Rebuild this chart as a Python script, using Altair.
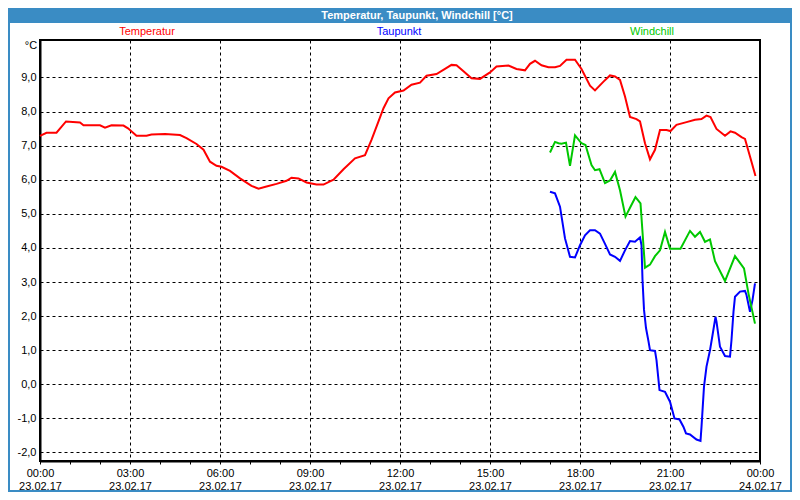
import json
import altair as alt
import pandas as pd

# ---------------- data ----------------
temp_times = ["00:00","00:13","00:33","00:52","01:20","01:27","02:00","02:10","02:23","02:47","02:56",
              "03:13","03:33","03:43","04:10","04:40","04:53","05:13","05:27","05:40","05:53","06:03",
              "06:20","06:40","07:03","07:17","07:33","07:53","08:13","08:23","08:37","08:53","09:13",
              "09:27","09:47","10:07","10:30","10:50","11:03","11:17","11:27","11:37","11:50","12:07",
              "12:23","12:40","12:53","13:13","13:30","13:43","13:53","14:07","14:23","14:40","15:00",
              "15:13","15:37","15:53","16:10","16:20","16:30","16:43","16:57","17:10","17:20","17:33",
              "17:50","18:03","18:20","18:30","18:47","19:00","19:10","19:20","19:30","19:40","19:53",
              "20:00","20:10","20:20","20:30","20:40","20:53","21:01","21:13","21:33","21:50","22:03",
              "22:13","22:21","22:33","22:50","23:01","23:10","23:23","23:30","23:40","23:51"]
temp_values = [7.29,7.38,7.38,7.71,7.68,7.60,7.60,7.53,7.60,7.59,7.51,
               7.29,7.29,7.33,7.34,7.31,7.22,7.05,6.88,6.53,6.41,6.38,
               6.26,6.04,5.82,5.74,5.80,5.88,5.97,6.06,6.04,5.92,5.86,
               5.86,6.00,6.31,6.63,6.72,7.17,7.71,8.10,8.39,8.56,8.62,
               8.79,8.85,9.05,9.10,9.25,9.37,9.36,9.18,8.98,8.96,9.15,
               9.32,9.35,9.25,9.21,9.40,9.49,9.36,9.30,9.30,9.34,9.52,
               9.52,9.25,8.76,8.62,8.88,9.06,9.03,8.93,8.44,7.84,7.78,
               7.71,7.07,6.60,6.88,7.46,7.46,7.43,7.61,7.69,7.76,7.78,
               7.88,7.84,7.49,7.29,7.42,7.38,7.25,7.20,6.68,6.11]

dew_times = ["17:00","17:10","17:20","17:30","17:40","17:50","18:00","18:10","18:20","18:30","18:40",
             "18:50","19:00","19:10","19:20","19:30","19:40","19:50","20:00","20:03","20:05","20:08",
             "20:12","20:17","20:20","20:30","20:33","20:39","20:50","21:00","21:09","21:19","21:27",
             "21:32","21:40","21:53","22:01","22:03","22:08","22:13","22:20","22:25","22:31","22:33",
             "22:40","22:50","23:00","23:03","23:07","23:10","23:20","23:30","23:33","23:40","23:45","23:50"]
dew_values = [5.65,5.60,5.21,4.28,3.74,3.72,4.08,4.37,4.52,4.52,4.42,
              4.12,3.81,3.74,3.62,3.93,4.20,4.18,4.31,4.08,3.07,2.19,
              1.65,1.26,1.00,0.98,0.71,-0.17,-0.22,-0.51,-1.00,-1.03,-1.25,
              -1.44,-1.47,-1.62,-1.66,-1.25,-0.07,0.52,1.00,1.44,1.98,1.84,
              1.10,0.83,0.81,1.30,2.13,2.57,2.72,2.74,2.62,2.13,2.47,2.96]

wc_times = ["17:00","17:10","17:17","17:23","17:32","17:40","17:50","18:03","18:11","18:23","18:30",
            "18:39","18:50","19:00","19:10","19:20","19:31","19:40","19:51","20:01","20:10","20:20",
            "20:30","20:40","20:50","21:00","21:21","21:40","21:50","22:00","22:10","22:20","22:30",
            "22:50","23:10","23:28","23:37","23:50"]
wc_values = [6.80,7.11,7.07,7.06,7.09,6.41,7.30,7.07,7.02,6.43,6.28,
             6.31,5.90,5.98,6.23,5.69,4.92,5.18,5.49,5.31,3.42,3.51,
             3.76,3.93,4.47,3.98,3.98,4.50,4.33,4.47,4.18,4.25,3.61,
             3.03,3.76,3.40,2.66,1.78]

series_names = ["Temperatur", "Taupunkt", "Windchill"]
series_colors = ["#ff0000", "#0000ff", "#00c800"]

x_tick_times = ["00:00","03:00","06:00","09:00","12:00","15:00","18:00","21:00","00:00"]
x_tick_dates = ["23.02.17"]*8 + ["24.02.17"]
y_tick_values = list(range(-2, 10))
y_tick_labels = ["-2,0","-1,0","0,0","1,0","2,0","3,0","4,0","5,0","6,0","7,0","8,0","9,0"]

title_text = "Temperatur, Taupunkt, Windchill [°C]"
unit_text = "°C"

# ---------------- table ----------------
def to_hours(t):
    h, m = t.split(":")
    return int(h) + int(m) / 60.0

rows = []
for name, times, vals in [(series_names[0], temp_times, temp_values),
                          (series_names[1], dew_times, dew_values),
                          (series_names[2], wc_times, wc_values)]:
    for t, v in zip(times, vals):
        rows.append({"series": name, "hour": to_hours(t), "value": v})
df = pd.DataFrame(rows)
one = pd.DataFrame({"a": [0]})

FONT = "Liberation Sans"
BLUE = "#3a8cc4"
W, H = 720, 421

x_label_expr = ("datum.value % 3 == 0 ? [{t}[datum.value/3], {d}[datum.value/3]] : ''"
                .format(t=json.dumps(x_tick_times), d=json.dumps(x_tick_dates)))
y_label_expr = "{l}[datum.value + 2]".format(l=json.dumps(y_tick_labels))

x_axis = alt.Axis(values=list(range(25)), labelExpr=x_label_expr, title=None,
                  grid=True, gridDash=[3, 3], gridColor="black", gridWidth=1,
                  gridOpacity={"condition": {"test": "datum.value % 3 != 0", "value": 0}, "value": 1},
                  ticks=True, tickSize=3, tickColor="black", tickWidth=1,
                  domain=True, domainColor="black", domainWidth=2,
                  labelFont=FONT, labelFontSize=11, labelColor="black", labelPadding=3,
                  labelLineHeight=13, labelAngle=0, labelAlign="center", labelBaseline="top",
                  labelOverlap=False, labelFlush=False)
y_axis = alt.Axis(values=y_tick_values, labelExpr=y_label_expr, title=None,
                  grid=True, gridDash=[3, 3], gridColor="black", gridWidth=1,
                  ticks=False, domain=True, domainColor="black", domainWidth=2,
                  labelFont=FONT, labelFontSize=11, labelColor="black", labelPadding=4,
                  labelOverlap=False, labelFlush=False)

lines = alt.Chart(df).mark_line(strokeWidth=2).encode(
    x=alt.X("hour:Q", scale=alt.Scale(domain=[0, 24], nice=False, zero=False), axis=x_axis),
    y=alt.Y("value:Q", scale=alt.Scale(domain=[-2.25, 10.1], nice=False, zero=False), axis=y_axis),
    color=alt.Color("series:N", scale=alt.Scale(domain=series_names, range=series_colors), legend=None),
    detail="series:N",
)

# decorations
frame = alt.Chart(one).mark_rect(fillOpacity=0, stroke=BLUE, strokeWidth=2).encode(
    x=alt.value(-31), x2=alt.value(751), y=alt.value(-31), y2=alt.value(451))
title_bar = alt.Chart(one).mark_rect(color=BLUE).encode(
    x=alt.value(-32), x2=alt.value(752), y=alt.value(-32), y2=alt.value(-17))
title = alt.Chart(one).mark_text(font=FONT, fontSize=11, fontWeight="bold", color="white",
                                 align="center", baseline="middle").encode(
    x=alt.value(377), y=alt.value(-24), text=alt.value(title_text))
unit = alt.Chart(one).mark_text(font=FONT, fontSize=11, color="black",
                                align="center", baseline="middle").encode(
    x=alt.value(-9), y=alt.value(6), text=alt.value(unit_text))

legend_x = [107, 359, 612]
legend_layers = []
for name, col, lx in zip(series_names, series_colors, legend_x):
    legend_layers.append(alt.Chart(one).mark_text(font=FONT, fontSize=11, color=col,
                                                  align="center", baseline="middle").encode(
        x=alt.value(lx), y=alt.value(-8), text=alt.value(name)))

chart = alt.layer(lines, frame, title_bar, title, unit, *legend_layers).properties(
    width=W, height=H,
    autosize=alt.AutoSizeParams(type="none"),
    padding={"left": 32, "top": 32, "right": 32, "bottom": 31},
    background="white",
).configure_view(stroke="black", strokeWidth=2)

chart.save("out.html", embed_options={"renderer": "svg", "actions": False})
